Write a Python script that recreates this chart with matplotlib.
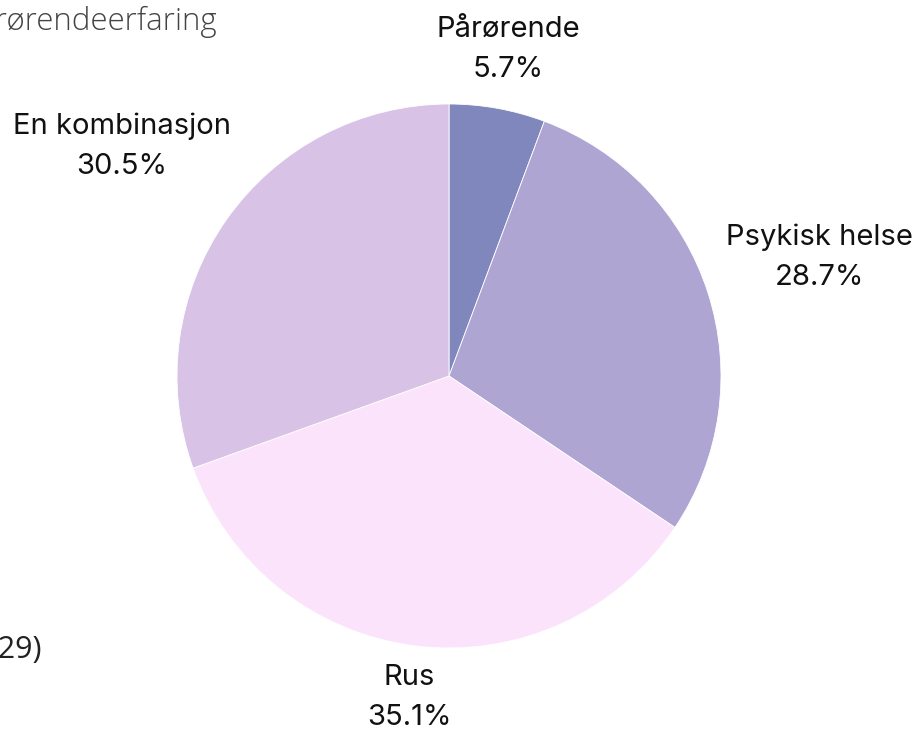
import numpy as np
import matplotlib
matplotlib.use("Agg")
import matplotlib.pyplot as plt

categories = ["Pårørende", "Psykisk helse", "Rus", "En kombinasjon"]
shares = [5.7, 28.7, 35.1, 30.5]
colors = ["#7f87bd", "#afa5d3", "#fbe4fb", "#d8c3e6"]
label_dist = [1.22, 1.43, 1.19, 1.47]

W, H = 922, 731
fig = plt.figure(figsize=(W / 100, H / 100), dpi=100)
ax = fig.add_axes([0, 0, 1, 1])

cx, cy, r = 449, H - 376, 272
wedges, _ = ax.pie(shares, colors=colors, startangle=90, counterclock=False,
                   center=(cx, cy), radius=r, frame=True,
                   wedgeprops=dict(linewidth=0.6, edgecolor="white"))
ax.set_xlim(0, W)
ax.set_ylim(0, H)
ax.set_aspect("equal")
ax.axis("off")

for w, name, val, d in zip(wedges, categories, shares, label_dist):
    ang = np.deg2rad((w.theta1 + w.theta2) / 2)
    x = cx + d * r * np.cos(ang)
    y = cy + d * r * np.sin(ang)
    ax.text(x, y, f"{name}\n{val:.1f}%", ha="center", va="center",
            fontsize=21, family="Inter", color="#111111", linespacing=1.6)

# title and subtitle are partly outside the canvas on the left
fig.text(217 / W, 1 - 21 / H, "Type erfaring: bruker- og pårørendeerfaring",
         ha="right", va="center", fontsize=22.5, family="Open Sans",
         fontweight="light", color="#444444")
fig.text(42 / W, 1 - 650 / H, "(n=229)", ha="right", va="center",
         fontsize=22, family="Open Sans", color="#222222")

fig.savefig("out.png", dpi=100)
